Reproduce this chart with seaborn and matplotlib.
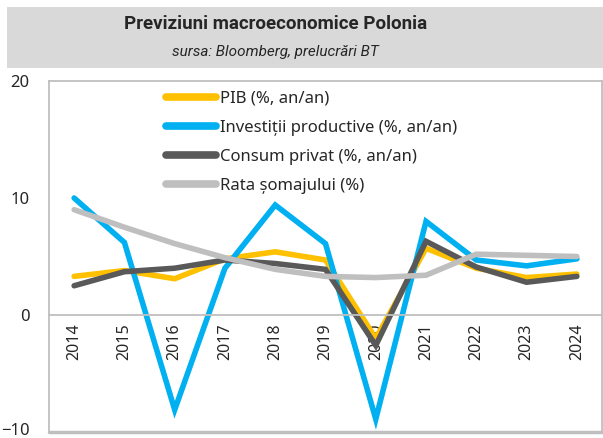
# Previziuni macroeconomice Polonia - line chart
import numpy as np
import pandas as pd
import seaborn as sns
import matplotlib.pyplot as plt
import matplotlib.transforms as mtransforms
from matplotlib.patches import Rectangle

# ==========================================
# Data
# ==========================================

years = ['2014', '2015', '2016', '2017', '2018', '2019',
         '2020', '2021', '2022', '2023', '2024']

pib = [3.3, 3.8, 3.1, 4.8, 5.4, 4.7, -2.0, 5.7, 4.0, 3.2, 3.5]
investitii = [10.0, 6.2, -8.1, 4.0, 9.4, 6.1, -8.9, 8.0, 4.7, 4.2, 4.8]
consum = [2.5, 3.7, 4.0, 4.7, 4.4, 3.9, -2.6, 6.3, 4.1, 2.8, 3.3]
somaj = [9.0, 7.5, 6.1, 4.9, 3.9, 3.3, 3.2, 3.4, 5.2, 5.1, 5.0]

labels = ['PIB (%, an/an)',
          'Investiții productive (%, an/an)',
          'Consum privat (%, an/an)',
          'Rata șomajului (%)']
colors = ['#FFC000', '#00B0F0', '#595959', '#BFBFBF']

df = pd.DataFrame({'an': years * 4,
                   'valoare': pib + investitii + consum + somaj,
                   'serie': np.repeat(labels, len(years))})

# ==========================================
# Plot
# ==========================================

sns.set_style('white')
plt.rcParams['font.family'] = ['Noto Sans', 'DejaVu Sans']

fig = plt.figure(figsize=(6.03, 4.38), dpi=100)
ax = fig.add_axes([49 / 603, 6 / 438, 553 / 603, 351 / 438])

# grey header band
fig.patches.append(Rectangle((7 / 603, 1 - 68 / 438), 596 / 603, 61 / 438,
                             transform=fig.transFigure, facecolor='#D9D9D9',
                             edgecolor='none', zorder=0))
fig.text(0.457, 1 - 24 / 438, 'Previziuni macroeconomice Polonia',
         ha='center', va='center', fontsize=13.5, fontweight='bold',
         family=['Roboto', 'DejaVu Sans'])
fig.text(0.457, 1 - 52 / 438, 'sursa: Bloomberg, prelucrări BT',
         ha='center', va='center', fontsize=11, style='italic',
         family=['Roboto', 'DejaVu Sans'])

sns.lineplot(data=df, x='an', y='valoare', hue='serie', palette=colors,
             linewidth=4, sort=False, ax=ax)
for ln in ax.lines:
    ln.set_solid_capstyle('round')
    ln.set_solid_joinstyle('miter')

ax.set_ylim(-10, 20)
ax.set_xlim(-0.5, len(years) - 0.5)
ax.set_yticks([-10, 0, 10, 20])
ax.set_xlabel('')
ax.set_ylabel('')

# category axis sits at zero, labels rotated like in Excel
ax.spines['bottom'].set_position(('data', 0))
for s in ['bottom', 'top', 'left', 'right']:
    ax.spines[s].set_color('#BFBFBF')
    ax.spines[s].set_linewidth(1.3)
ax.axhline(-10, color='#BFBFBF', linewidth=2.5, clip_on=False)
ax.tick_params(axis='x', length=0, rotation=90, labelsize=11.5, pad=6)
ax.tick_params(axis='y', length=0, labelsize=12, pad=14)
fig.canvas.draw()
ylabs = ax.get_yticklabels()
for t in ylabs:
    t.set_va('center_baseline')
# nudge the lowest label up so it stays inside the picture
ylabs[0].set_transform(ylabs[0].get_transform() +
                       mtransforms.ScaledTranslation(0, 3 / 100, fig.dpi_scale_trans))

leg = ax.legend(loc='upper left', bbox_to_anchor=(0.185, 1.015), frameon=False,
                fontsize=12, handlelength=3.0, handletextpad=0.2,
                labelspacing=0.78)
for h in leg.get_lines():
    h.set_linewidth(5.5)
    h.set_solid_capstyle('round')

fig.savefig('out.png', dpi=100)
